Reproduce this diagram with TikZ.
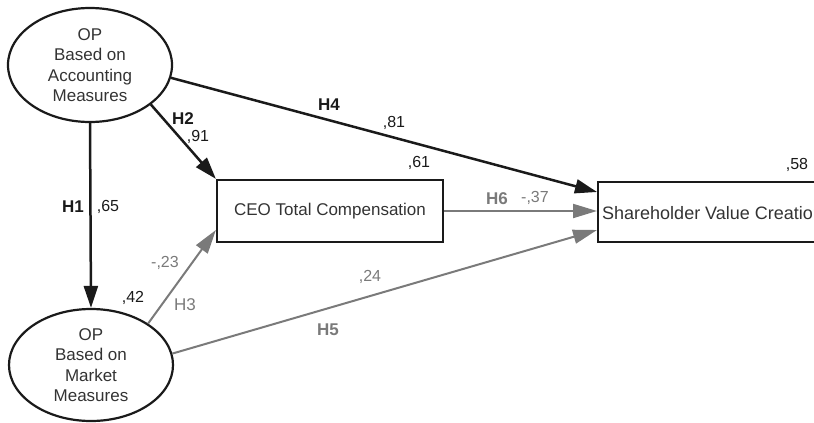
\documentclass[tikz,border=0pt]{standalone}
\usepackage{fontspec}
\setmainfont{Liberation Sans}
\usetikzlibrary{arrows.meta,shapes.geometric}
\definecolor{txt}{HTML}{333333}
\definecolor{dk}{HTML}{1A1A1A}
\definecolor{gr}{HTML}{7A7A7A}
\begin{document}
\begin{tikzpicture}[x=1pt,y=-1pt,
 lat/.style={ellipse,draw=dk,line width=2.2pt,minimum width=164pt,minimum height=114pt,inner sep=0pt,align=center,font=\fontsize{17}{20.5}\selectfont,text=txt},
 box/.style={rectangle,draw=dk,line width=2.2pt,inner sep=0pt,font=\fontsize{17}{20}\selectfont,text=txt},
 blk/.style={draw=dk,line width=2.5pt,-{Triangle[length=22pt,width=14pt]}},
 gry/.style={draw=gr,line width=2pt,-{Triangle[length=24pt,width=14pt]}},
 lb/.style={font=\fontsize{16}{16}\selectfont,text=dk,inner sep=0pt},
 lg/.style={font=\fontsize{16}{16}\selectfont,text=gr,inner sep=0pt},
 hb/.style={font=\fontsize{17}{17}\selectfont\bfseries,text=dk,inner sep=0pt},
 hg/.style={font=\fontsize{17}{17}\selectfont\bfseries,text=gr,inner sep=0pt},
]
\clip (0,0) rectangle (814,423);
\node[lat] (acc) at (90,65) {OP\\Based on\\Accounting\\Measures};
\node[lat,minimum height=112pt] (mkt) at (91,365) {OP\\Based on\\Market\\Measures};
\node[box,minimum width=226pt,minimum height=62pt] (ceo) at (330,211) {CEO Total Compensation};
\node[box,minimum width=260pt,minimum height=60pt,anchor=west] (sh) at (597,212) {};
\node[anchor=west,inner sep=0pt,font=\fontsize{18}{20}\selectfont,text=txt] (shtxt) at (602,213) {Shareholder Value Creation};

\draw[blk] (acc.south) -- (mkt.north);
\draw[blk] (acc.-33) -- (ceo.north west);
\draw[blk] (acc.-9) -- ([yshift=20pt]sh.west);
\draw[gry] (ceo.east) -- (ceo.east -| sh.west);
\draw[gry] (mkt.8) -- ([yshift=-18pt]sh.west);
\draw[gry] (mkt.36) -- ([yshift=-19pt]ceo.west);

\node[hb] (h1) at (73,207) {H1};
\node[lb] (v65) at (108,207) {,65};
\node[hb] (h2) at (183,119) {H2};
\node[lb] (v91) at (198,137) {,91};
\node[hb] (h4) at (329,105) {H4};
\node[lb] (v81) at (394,123) {,81};
\node[lb] (v61) at (419,163) {,61};
\node[lg] (v23) at (165,263) {-,23};
\node[lb] (v42) at (133,298) {,42};
\node[lg,font=\fontsize{17}{17}\selectfont] (h3) at (185,305) {H3};
\node[lg] (v24) at (370,277) {,24};
\node[hg] (h5) at (328,330) {H5};
\node[hg] (h6) at (497,199) {H6};
\node[lg] (v37) at (535,198) {-,37};
\node[lb] (v58) at (797,165) {,58};
\end{tikzpicture}
\end{document}
